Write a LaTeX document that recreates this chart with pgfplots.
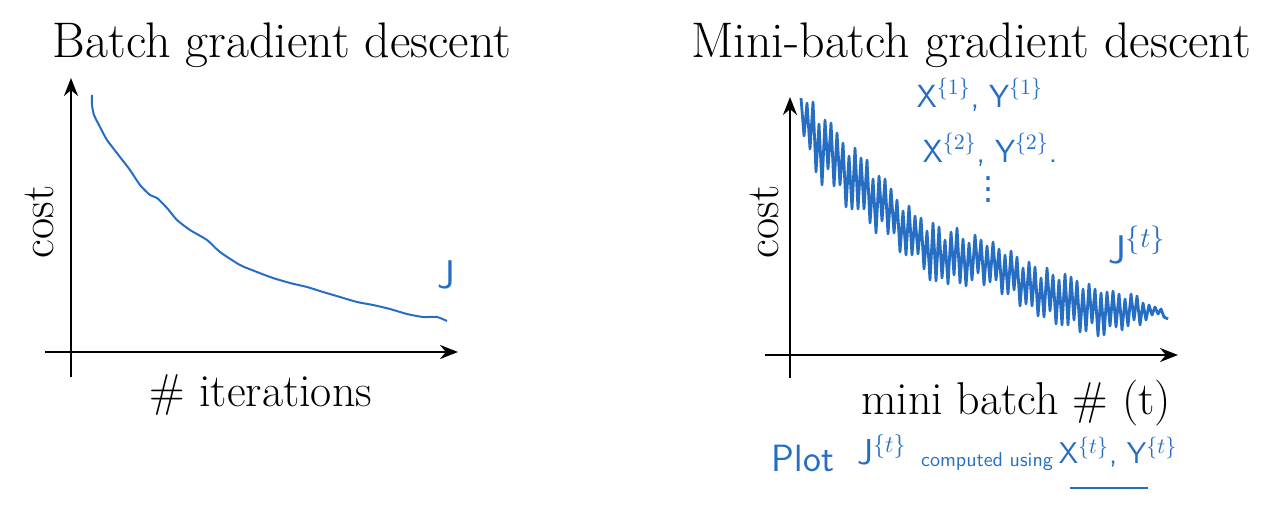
\documentclass[border=0pt]{standalone}
\usepackage{fontspec}
\usepackage{pgfplots}
\pgfplotsset{compat=1.18}
\usetikzlibrary{arrows.meta}
\newfontfamily\dejavu{DejaVu Sans}
\definecolor{pen}{RGB}{38,110,196}
\newcommand{\titlefont}{\fontsize{25}{29}\selectfont}
\newcommand{\labelfont}{\fontsize{23}{27}\selectfont}
\newcommand{\handfont}{\fontsize{16}{18}\selectfont\sffamily}

\pgfplotsset{sketch/.style={
    axis lines=middle,
    axis line style={line width=1pt, -{Stealth[length=9pt,width=7pt]}},
    xtick=\empty, ytick=\empty,
    scale only axis,
    anchor=south west,
    clip=false,
}}

\begin{document}
\begin{tikzpicture}
\useasboundingbox (0,0) rectangle (631pt,262pt);

% batch gradient descent
\begin{axis}[sketch, at={(22.5pt,73.5pt)}, width=206.5pt, height=149.5pt,
    xmin=-26, xmax=387, ymin=-25, ymax=274]
\addplot[pen, line width=1pt, smooth, tension=0.4] coordinates {
(21,257) (21,247) (23,237) (29,225) (36,212) (49,195) (59,182) (69,167)
(79,157) (86,154) (96,144) (106,132) (119,122) (136,112) (149,100) (169,87)
(186,80) (202,74) (219,69) (236,65) (252,60) (269,55) (286,50) (302,47)
(319,43) (336,38) (352,35) (366,35) (376,31)
};
\end{axis}

% mini-batch gradient descent
\begin{axis}[sketch, at={(382.5pt,73pt)}, width=206.5pt, height=140.5pt,
    xmin=-25, xmax=388, ymin=-23, ymax=258]
\addplot[pen, line width=1.4pt, line join=round] coordinates {
(11,257) (14,219) (17,252) (20,206) (23,253) (26,183) (29,231) (32,170)
(35,235) (38,186) (41,232) (44,169) (47,222) (50,170) (53,212) (56,148)
(59,199) (62,146) (65,207) (68,146) (71,197) (74,146) (77,195) (80,132)
(83,176) (86,122) (89,179) (92,134) (95,176) (98,121) (101,166) (104,122)
(107,155) (110,103) (113,144) (116,100) (119,149) (122,100) (125,139) (128,101)
(131,137) (134,86) (137,124) (140,75) (143,132) (146,74) (149,128) (152,77)
(155,115) (158,71) (161,123) (164,80) (167,127) (170,72) (173,116) (176,69)
(179,112) (182,75) (185,120) (188,82) (191,115) (194,70) (197,109) (200,73)
(203,113) (206,75) (209,106) (212,61) (215,100) (218,61) (221,104) (224,65)
(227,98) (230,49) (233,87) (236,51) (239,93) (242,49) (245,88) (248,39)
(251,77) (254,38) (257,87) (260,44) (263,80) (266,31) (269,75) (272,30)
(275,81) (278,30) (281,78) (284,35) (287,74) (290,23) (293,66) (296,24)
(299,71) (302,32) (305,66) (308,19) (311,62) (314,20) (317,63) (320,29)
(323,64) (326,28) (329,61) (332,25) (335,56) (338,29) (341,61) (344,35)
(347,59) (350,30) (353,52) (356,35) (359,50) (362,40) (365,48) (368,41)
(371,46) (374,38) (378,36)
};
\end{axis}

% titles and labels
\node[font=\titlefont] at (141pt,239.5pt) {Batch gradient descent};
\node[font=\titlefont] at (485.5pt,239.5pt) {Mini-batch gradient descent};
\node[font=\labelfont] at (130.5pt,64.5pt) {\# iterations};
\node[font=\labelfont] at (508pt,60.5pt) {mini batch \# (t)};
\node[font=\labelfont, rotate=90] at (20pt,151pt) {cost};
\node[font=\labelfont, rotate=90] at (382.5pt,151pt) {cost};

% pen notes
\begin{scope}[every node/.style={text=pen, font=\handfont, inner sep=0pt}]
\node[font=\fontsize{20}{22}\selectfont\sffamily] at (223pt,124.5pt) {J};
\node at (490pt,214.5pt) {X$^{\{1\}}$, Y$^{\{1\}}$};
\node at (495pt,187pt) {X$^{\{2\}}$, Y$^{\{2\}}$.};
\node[font=\fontsize{16}{18}\selectfont\dejavu] at (494pt,167pt) {⋮};
\node[font=\fontsize{20}{22}\selectfont\sffamily] at (568.5pt,139.5pt) {J$^{\{t\}}$};
\node[font=\fontsize{19}{22}\selectfont\sffamily] at (401.5pt,33pt) {Plot};
\node[font=\fontsize{18}{22}\selectfont\sffamily] at (441pt,37pt) {J$^{\{t\}}$};
\node[font=\fontsize{10}{12}\selectfont\sffamily] at (493.5pt,31pt) {computed using};
\node[font=\fontsize{15}{18}\selectfont\sffamily] at (559pt,36pt) {X$^{\{t\}}$, Y$^{\{t\}}$};
\end{scope}
\draw[pen, line width=1pt] (535pt,18pt) -- (574pt,18pt);
\end{tikzpicture}
\end{document}
